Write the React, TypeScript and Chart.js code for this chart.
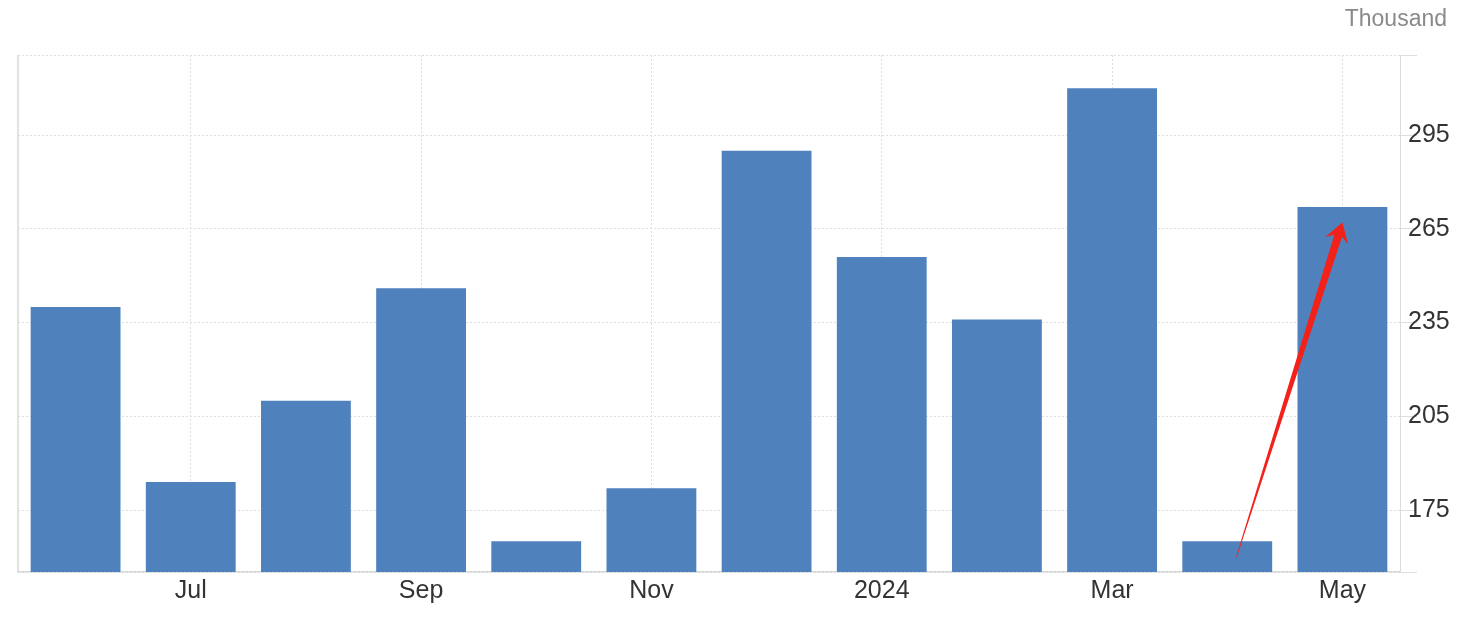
import React, { useEffect, useRef } from "react";
import { Chart, registerables } from "chart.js";

Chart.register(...registerables);

const categories = ["Jun", "Jul", "Aug", "Sep", "Oct", "Nov", "Dec", "2024", "Feb", "Mar", "Apr", "May"];
const payrolls = [240, 184, 210, 246, 165, 182, 290, 256, 236, 310, 165, 272];
const yTickValues = [175, 205, 235, 265, 295];
const yMin = 155.2;
const yMax = 320.6;
const unitLabel = "Thousand";
const arrowFrom = { index: 10.08, value: 160 };
const arrowTo = { index: 11, value: 267 };

const FONT = "Arial, 'Liberation Sans', sans-serif";
const GRID = "#dedede";

const decorPlugin = {
  id: "decor",
  afterDatasetsDraw(chart: any) {
    const { ctx, chartArea, scales } = chart;
    const x = scales.x;
    const y = scales.y;
    ctx.save();
    // left border
    ctx.strokeStyle = "#d8d8d8";
    ctx.lineWidth = 1.5;
    ctx.beginPath();
    ctx.moveTo(chartArea.left, chartArea.top);
    ctx.lineTo(chartArea.left, chartArea.bottom);
    ctx.stroke();
    // unit label
    ctx.fillStyle = "#8a8a8a";
    ctx.font = `23px ${FONT}`;
    ctx.textAlign = "right";
    ctx.textBaseline = "middle";
    ctx.fillText(unitLabel, chart.width - 22, 20);
    // arrow
    const tx = x.getPixelForValue(arrowFrom.index);
    const ty = y.getPixelForValue(arrowFrom.value);
    const hx = x.getPixelForValue(arrowTo.index);
    const hy = y.getPixelForValue(arrowTo.value);
    const dx = hx - tx;
    const dy = hy - ty;
    const len = Math.sqrt(dx * dx + dy * dy);
    const ux = dx / len;
    const uy = dy / len;
    const nx = -uy;
    const ny = ux;
    const headLen = 19;
    const headHalf = 12;
    const notch = 14;
    const shaftHalf = 4;
    const bx = hx - ux * headLen;
    const by = hy - uy * headLen;
    const nbx = hx - ux * notch;
    const nby = hy - uy * notch;
    ctx.fillStyle = "#f2221b";
    ctx.beginPath();
    ctx.moveTo(tx + nx * 0.4, ty + ny * 0.4);
    ctx.lineTo(nbx + nx * shaftHalf, nby + ny * shaftHalf);
    ctx.lineTo(bx + nx * headHalf, by + ny * headHalf);
    ctx.lineTo(hx, hy);
    ctx.lineTo(bx - nx * headHalf, by - ny * headHalf);
    ctx.lineTo(nbx - nx * shaftHalf, nby - ny * shaftHalf);
    ctx.lineTo(tx - nx * 0.4, ty - ny * 0.4);
    ctx.closePath();
    ctx.fill();
    ctx.restore();
  },
};

export default function App() {
  const ref = useRef<HTMLCanvasElement | null>(null);
  useEffect(() => {
    if (!ref.current) return;
    const chart = new Chart(ref.current, {
      type: "bar",
      data: {
        labels: categories,
        datasets: [
          {
            data: payrolls,
            backgroundColor: "#4f81bd",
            borderWidth: 0,
            barPercentage: 0.78,
            categoryPercentage: 1,
          },
        ],
      },
      options: {
        animation: false,
        responsive: true,
        maintainAspectRatio: false,
        layout: { padding: { left: 18, top: 55, right: 0, bottom: 0 } },
        plugins: { legend: { display: false }, tooltip: { enabled: false } },
        scales: {
          x: {
            offset: true,
            grid: {
              offset: false,
              drawTicks: false,
              color: (c: any) => (c.index % 2 === 1 ? GRID : "rgba(0,0,0,0)"),
            },
            border: { display: true, color: "#d8d8d8", width: 1.5, dash: [2, 2] },
            ticks: {
              autoSkip: false,
              maxRotation: 0,
              padding: 4,
              color: "#333",
              font: { family: FONT, size: 25 },
              callback: (_v: any, i: number) => (i % 2 === 1 ? categories[i] : ""),
            },
            afterFit: (s: any) => {
              s.height = 49;
            },
          },
          y: {
            position: "right",
            min: yMin,
            max: yMax,
            grid: { color: GRID, tickLength: 17, tickColor: GRID },
            border: { display: true, color: "#dcdcdc", dash: [2, 2] },
            ticks: {
              padding: -9,
              color: "#333",
              font: { family: FONT, size: 25 },
              callback: (v: any) => (yTickValues.includes(v) ? String(v) : ""),
            },
            afterBuildTicks: (s: any) => {
              s.ticks = [yMin, ...yTickValues, yMax].map((v) => ({ value: v }));
            },
            afterFit: (s: any) => {
              s.width = 69;
            },
          },
        },
      },
      plugins: [decorPlugin],
    });
    return () => chart.destroy();
  }, []);
  return (
    <div style={{ position: "absolute", left: 0, top: 0, width: 1469, height: 621, background: "#fff" }}>
      <canvas ref={ref} />
    </div>
  );
}
